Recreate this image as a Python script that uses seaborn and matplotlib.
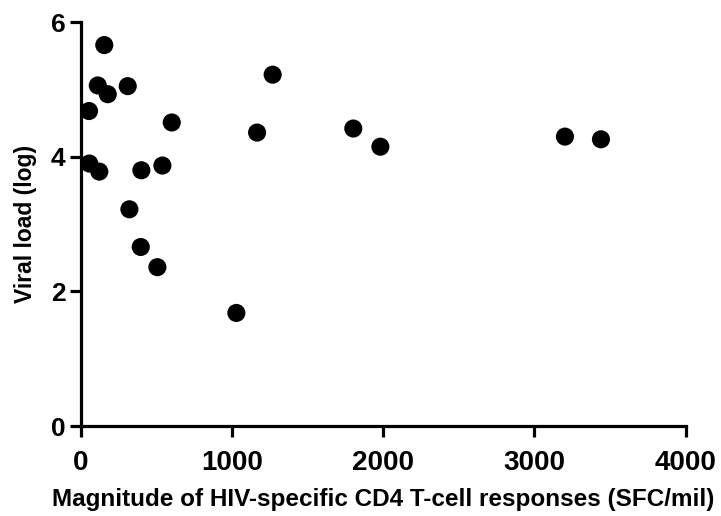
import numpy as np
import pandas as pd
import matplotlib
matplotlib.use("Agg")
import matplotlib.pyplot as plt
import seaborn as sns

# CD4 response magnitude (SFC/mil) vs viral load (log)
sfc = [157, 114, 180, 312, 56, 603, 1270, 1167, 58, 124,
       402, 541, 323, 398, 508, 1030, 1803, 1982, 3202, 3440]
viral_load = [5.66, 5.06, 4.93, 5.05, 4.68, 4.51, 5.22, 4.36, 3.90, 3.78,
              3.80, 3.87, 3.22, 2.66, 2.36, 1.68, 4.42, 4.15, 4.30, 4.26]
x_ticks = [0, 1000, 2000, 3000, 4000]
y_ticks = [0, 2, 4, 6]

df = pd.DataFrame({"sfc": sfc, "vl": viral_load})

sns.set_style("ticks", {"axes.edgecolor": "black", "text.color": "black",
                        "xtick.color": "black", "ytick.color": "black",
                        "axes.labelcolor": "black"})
plt.rcParams["font.family"] = ["Liberation Sans", "DejaVu Sans"]
plt.rcParams["font.weight"] = "bold"

fig = plt.figure(figsize=(7.21, 5.16), dpi=100)
ax = fig.add_axes([0.1117, 0.1744, 0.8393, 0.7826])

sns.scatterplot(data=df, x="sfc", y="vl", color="black", s=170,
                edgecolor="none", ax=ax, clip_on=False, zorder=3)

ax.set_xlim(0, 4000)
ax.set_ylim(0, 6)
ax.set_xticks(x_ticks)
ax.set_yticks(y_ticks)
ax.set_xticklabels([str(t) for t in x_ticks], fontsize=20, fontweight="bold")
ax.set_yticklabels([str(t) for t in y_ticks], fontsize=19, fontweight="bold")

for side in ["top", "right"]:
    ax.spines[side].set_visible(False)
for side in ["left", "bottom"]:
    ax.spines[side].set_linewidth(2.3)
ax.tick_params(axis="x", width=2.3, length=8, direction="out", pad=9)
ax.tick_params(axis="y", width=2.3, length=8, direction="out", pad=3)

ax.set_xlabel("Magnitude of HIV-specific CD4 T-cell responses (SFC/mil)",
              fontsize=17.5, fontweight="bold", labelpad=9)
ax.set_ylabel("Viral load (log)", fontsize=16.5, fontweight="bold", labelpad=10)

fig.savefig("out.png", dpi=100)
